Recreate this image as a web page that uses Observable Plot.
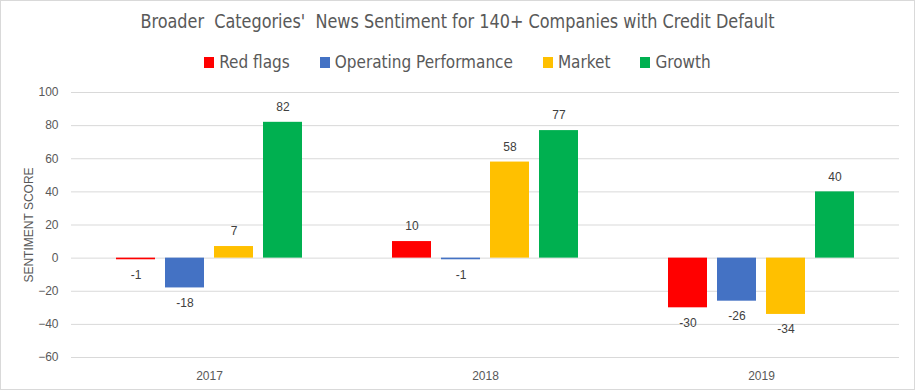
<!DOCTYPE html>
<html>
<head>
<meta charset="utf-8">
<script src="https://cdn.jsdelivr.net/npm/d3@7"></script>
<script src="https://cdn.jsdelivr.net/npm/@observablehq/plot@0.6"></script>
<style>
  html, body { margin: 0; padding: 0; background: #fff; }
  #chart { position: relative; width: 915px; height: 390px; box-sizing: border-box; border: 1px solid #d9d9d9; overflow: hidden; font-family: "Liberation Sans Narrow", "DejaVu Sans Condensed", sans-serif; color: #595959; }
  #title { position: absolute; left: 0; right: 0; top: 7px; text-align: center; font-size: 19px; line-height: 26px; white-space: pre; transform: scaleX(0.94); }
  #legend { position: absolute; left: 0; right: 0; top: 51px; display: flex; justify-content: center; font-size: 17px; line-height: 20px; }
  .item { display: flex; align-items: center; margin: 0 15px; }
  .sw { width: 10px; height: 11px; margin-right: 5px; }
  #plot { position: absolute; left: -2px; top: 79px; }
</style>
</head>
<body>
<div id="chart">
  <div id="title"></div>
  <div id="legend"></div>
  <div id="plot"></div>
</div>
<script>
const title = "Broader  Categories'  News Sentiment for 140+ Companies with Credit Default";
const years = ["2017", "2018", "2019"];
const series = ["Red flags", "Operating Performance", "Market", "Growth"];
const colors = ["#ff0000", "#4472c4", "#ffc000", "#00b050"];
const redFlags = [-1, 10, -30];
const operatingPerformance = [-18, -1, -26];
const market = [7, 58, -34];
const growth = [82, 77, 40];
const yTicks = [-60, -40, -20, 0, 20, 40, 60, 80, 100];

const valuesBySeries = [redFlags, operatingPerformance, market, growth];
const data = [];
years.forEach((yr, i) => series.forEach((s, j) => data.push({year: yr, series: s, value: valuesBySeries[j][i]})));

document.getElementById("title").textContent = title;
const legend = document.getElementById("legend");
series.forEach((s, j) => {
  const it = document.createElement("div"); it.className = "item";
  const sw = document.createElement("div"); sw.className = "sw"; sw.style.background = colors[j];
  const t = document.createElement("span"); t.textContent = s;
  it.appendChild(sw); it.appendChild(t); legend.appendChild(it);
});

const chart = Plot.plot({
  width: 915,
  height: 311,
  marginLeft: 71,
  marginRight: 14,
  marginTop: 12,
  marginBottom: 34,
  style: {fontFamily: "'Liberation Sans', Arial, sans-serif", fontSize: "12px", color: "#595959", background: "transparent"},
  fx: {domain: years, paddingInner: 0, paddingOuter: 0, label: null, axis: null},
  x: {domain: series, paddingInner: 0.2, paddingOuter: 0.87, axis: null},
  y: {domain: [-60, 100], ticks: yTicks},
  color: {domain: series, range: colors},
  marks: [
    Plot.gridY(yTicks, {stroke: "#d9d9d9", strokeOpacity: 1}),
    Plot.axisY(yTicks, {tickSize: 0, tickPadding: 13, label: "SENTIMENT SCORE", labelAnchor: "center", labelArrow: "none", labelOffset: 47, fill: "#595959", fontSize: 12}),
    Plot.axisFx({anchor: "bottom", tickSize: 0, tickPadding: 14, label: null, fill: "#595959", fontSize: 12}),
    Plot.barY(data, {fx: "year", x: "series", y: "value", fill: "series"}),
    Plot.text(data.filter(d => d.value >= 0), {fx: "year", x: "series", y: "value", text: d => String(d.value), dy: -15, fill: "#404040", fontSize: 12}),
    Plot.text(data.filter(d => d.value < 0), {fx: "year", x: "series", y: "value", text: d => String(d.value), dy: 15, fill: "#404040", fontSize: 12})
  ]
});
document.getElementById("plot").appendChild(chart);
</script>
</body>
</html>
